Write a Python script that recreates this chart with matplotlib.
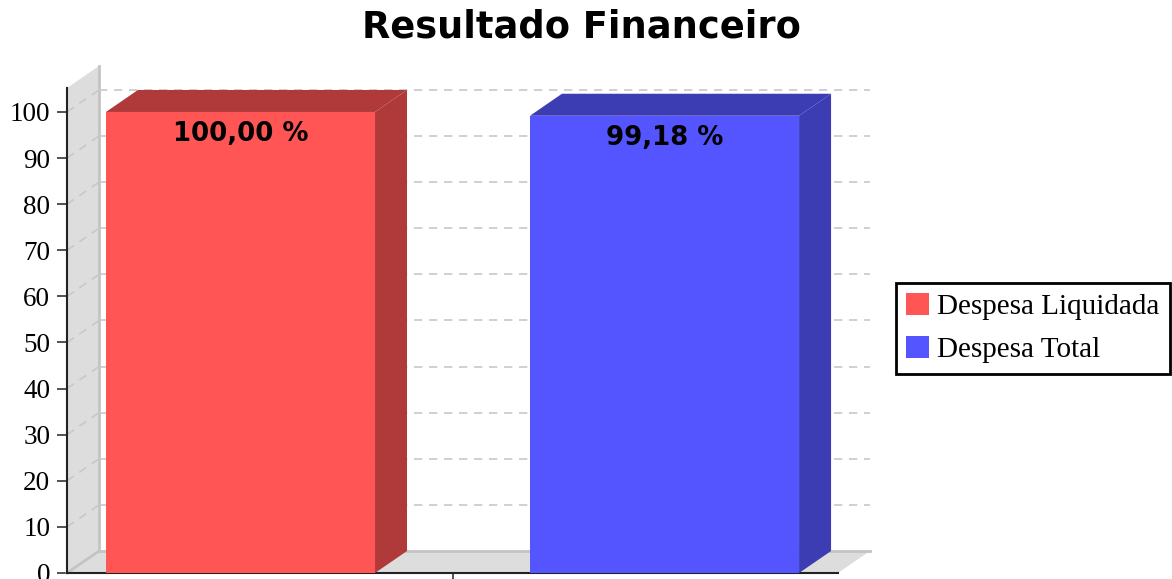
import matplotlib
matplotlib.use("Agg")
from matplotlib import pyplot as plt
from matplotlib.patches import Polygon, Patch
import numpy as np

# data
series = ["Despesa Liquidada", "Despesa Total"]
values = [100.00, 99.18]
value_labels = ["100,00 %", "99,18 %"]
front_colors = ["#FF5555", "#5555FF"]
side_colors = ["#B03A3A", "#3C3CB3"]
yticks = [0, 10, 20, 30, 40, 50, 60, 70, 80, 90, 100]

fig = plt.figure(figsize=(11.72, 5.79), dpi=100)
ax = fig.add_axes([67 / 1172, 6 / 579, 771 / 1172, 485 / 579])
ax.set_xlim(0, 1)
ax.set_ylim(0, 105.2)

# 3d depth, pixels -> data units
depth_px, lift_px = 32, 22
p0 = ax.transData.inverted().transform((0, 0))
p1 = ax.transData.inverted().transform((depth_px, lift_px))
dx, dy = p1 - p0
x0, x1 = ax.get_xlim()
ymax = ax.get_ylim()[1]

# wall and floor
wall = Polygon([(x0, 0), (x0, ymax), (x0 + dx, ymax + dy), (x0 + dx, dy)],
               closed=True, fc="#DDDDDD", ec="none", clip_on=False, zorder=1)
floor = Polygon([(x0, 0), (x1, 0), (x1 + dx, dy), (x0 + dx, dy)],
                closed=True, fc="#DDDDDD", ec="none", clip_on=False, zorder=1)
ax.add_patch(wall)
ax.add_patch(floor)
ax.plot([x0 + dx, x0 + dx], [dy, ymax + dy], color="#C4C4C4", lw=2, clip_on=False, zorder=2)
ax.plot([x0 + dx, x1 + dx], [dy, dy], color="#C4C4C4", lw=2, clip_on=False, zorder=2)
ax.plot([x0, x0 + dx], [0, dy], color="#C4C4C4", lw=2, clip_on=False, zorder=2)

# gridlines on back wall and side wall
for v in yticks[1:]:
    ax.plot([x0 + dx, x1 + dx], [v + dy, v + dy], color="#C8C8C8", lw=1.2,
            ls=(0, (5, 4)), clip_on=False, zorder=2)
    ax.plot([x0, x0 + dx], [v, v + dy], color="#C8C8C8", lw=1.2,
            ls=(0, (5, 4)), clip_on=False, zorder=2)

# bars
bar_w = 0.349
centers = [0.5 + (i - 0.5) * 0.55 for i in range(len(series))]
for c, v, fc, sc, lab in zip(centers, values, front_colors, side_colors, value_labels):
    l, r = c - bar_w / 2, c + bar_w / 2
    side = Polygon([(r, 0), (r + dx, dy), (r + dx, v + dy), (r, v)],
                   closed=True, fc=sc, ec="none", clip_on=False, zorder=3)
    top = Polygon([(l, v), (r, v), (r + dx, v + dy), (l + dx, v + dy)],
                  closed=True, fc=sc, ec="none", clip_on=False, zorder=3)
    ax.add_patch(side)
    ax.add_patch(top)
    ax.bar(c, v, width=bar_w, color=fc, zorder=4, clip_on=False)
    ax.annotate(lab, (c, v), xytext=(0, -29), textcoords="offset pixels",
                ha="center", va="baseline", fontsize=18.7, fontweight="bold",
                family="DejaVu Sans", zorder=5)

# axes styling
for s in ["top", "right"]:
    ax.spines[s].set_visible(False)
ax.spines["left"].set_color("#222222")
ax.spines["bottom"].set_color("#222222")
ax.spines["left"].set_linewidth(1.5)
ax.spines["bottom"].set_linewidth(1.5)
ax.set_yticks(yticks)
ax.set_yticklabels([str(t) for t in yticks], family="Liberation Serif", fontsize=19.5)
ax.set_xticks([0.5])
ax.set_xticklabels([""])
ax.tick_params(axis="y", length=7, width=1.2, color="#333333", pad=5)
ax.tick_params(axis="x", length=7, width=1.2, color="#333333")
ax.set_facecolor("none")

fig.text(581.5 / 1172, 1 - 38 / 579, "Resultado Financeiro", ha="center", va="baseline",
         fontsize=26.5, fontweight="bold", family="DejaVu Sans")

handles = [Patch(fc=c, ec="none") for c in front_colors]
leg = fig.legend(handles, series, loc="upper left",
                 bbox_to_anchor=(896 / 1172, 1 - 283 / 579),
                 prop={"family": "Liberation Serif", "size": 21},
                 handlelength=0.77, handleheight=0.77, handletextpad=0.3,
                 labelspacing=0.55, borderpad=0.35, borderaxespad=0,
                 fancybox=False, framealpha=1)
leg.get_frame().set_edgecolor("black")
leg.get_frame().set_linewidth(2)

plt.savefig("out.png", dpi=100)
